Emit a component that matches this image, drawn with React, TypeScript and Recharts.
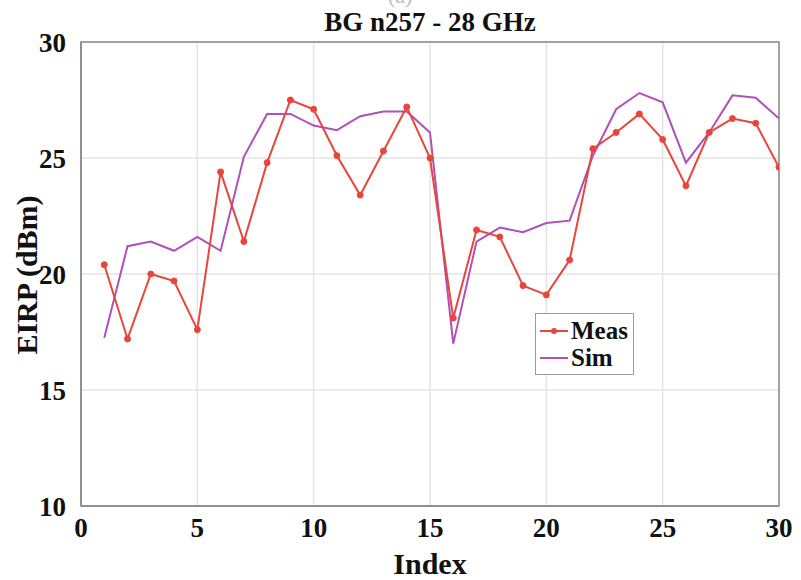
import React from 'react';
import { LineChart, Line, XAxis, YAxis, CartesianGrid, ReferenceArea } from 'recharts';

const indices = [1,2,3,4,5,6,7,8,9,10,11,12,13,14,15,16,17,18,19,20,21,22,23,24,25,26,27,28,29,30];
const measValues = [20.4,17.2,20.0,19.7,17.6,24.4,21.4,24.8,27.5,27.1,25.1,23.4,25.3,27.2,25.0,18.1,21.9,21.6,19.5,19.1,20.6,25.4,26.1,26.9,25.8,23.8,26.1,26.7,26.5,24.6];
const simValues = [17.25,21.2,21.4,21.0,21.6,21.0,25.05,26.9,26.9,26.4,26.2,26.8,27.0,27.0,26.1,17.0,21.4,22.0,21.8,22.2,22.3,25.1,27.1,27.8,27.4,24.8,26.1,27.7,27.6,26.7];
const xTicks = [0,5,10,15,20,25,30];
const yTicks = [10,15,20,25,30];
const seriesNames = ['Meas', 'Sim'];
const titleText = 'BG n257 - 28 GHz';
const xLabel = 'Index';
const yLabel = 'EIRP (dBm)';

const data = indices.map((idx, i) => ({ index: idx, meas: measValues[i], sim: simValues[i] }));

const MEAS_COLOR = '#e8453c';
const SIM_COLOR = '#b050b8';
const FONT = '"Liberation Serif", "Times New Roman", serif';

const LegendBox = () => (
  <div style={{
    position: 'absolute', left: 535, top: 313, width: 99, height: 62,
    border: '1px solid #9a9a9a', background: '#fff',
    fontFamily: FONT, fontWeight: 'bold', fontSize: 25, color: '#111',
    boxSizing: 'border-box', paddingTop: 3,
  }}>
    <div style={{ display: 'flex', alignItems: 'center', height: 27 }}>
      <svg width={30} height={12} style={{ marginLeft: 3, marginRight: 2 }}>
        <line x1={1} y1={6} x2={29} y2={6} stroke={MEAS_COLOR} strokeWidth={2} />
        <circle cx={15} cy={6} r={3} fill={MEAS_COLOR} />
      </svg>
      <span>{seriesNames[0]}</span>
    </div>
    <div style={{ display: 'flex', alignItems: 'center', height: 27 }}>
      <svg width={30} height={12} style={{ marginLeft: 3, marginRight: 2 }}>
        <line x1={1} y1={6} x2={29} y2={6} stroke={SIM_COLOR} strokeWidth={2} />
      </svg>
      <span>{seriesNames[1]}</span>
    </div>
  </div>
);

export default function App() {
  const tickStyle = { fontFamily: FONT, fontWeight: 'bold', fontSize: 27, fill: '#111' };
  return (
    <div style={{ position: 'absolute', left: 0, top: 0, width: 801, height: 580, background: '#fff', overflow: 'hidden' }}>
      <div style={{ position: 'absolute', left: 388, top: -17, fontFamily: FONT, fontSize: 22, color: '#bbb' }}>
        (a)
      </div>
      <div style={{ position: 'absolute', left: 81, width: 698, top: 6, textAlign: 'center', fontFamily: FONT, fontWeight: 'bold', fontSize: 27, color: '#111', lineHeight: '32px' }}>
        {titleText}
      </div>
      <LineChart width={801} height={580} data={data} margin={{ top: 42, right: 22, bottom: 0, left: 0 }}>
        <CartesianGrid stroke="#e4e4e4" strokeWidth={1.5} />
        <XAxis
          dataKey="index" type="number" domain={[0, 30]} ticks={xTicks} height={74}
          tick={tickStyle} tickLine={false} tickMargin={6} axisLine={{ stroke: '#8a8a8a', strokeWidth: 1.5 }}
          allowDataOverflow
        />
        <YAxis
          type="number" domain={[10, 30]} ticks={yTicks} width={81}
          tick={tickStyle} tickLine={false} tickMargin={9} axisLine={{ stroke: '#8a8a8a', strokeWidth: 1.5 }}
          allowDataOverflow
        />
        <ReferenceArea x1={0} x2={30} y1={10} y2={30} fill="none" stroke="#8a8a8a" strokeWidth={1.5} ifOverflow="visible" />
        <Line dataKey="sim" name={seriesNames[1]} stroke={SIM_COLOR} strokeWidth={2} dot={false} isAnimationActive={false} type="linear" />
        <Line dataKey="meas" name={seriesNames[0]} stroke={MEAS_COLOR} strokeWidth={2} dot={{ r: 3, fill: MEAS_COLOR, stroke: MEAS_COLOR, strokeWidth: 1 }} isAnimationActive={false} type="linear" />
      </LineChart>
      <LegendBox />
      <div style={{ position: 'absolute', left: 81, width: 698, top: 547, textAlign: 'center', fontFamily: FONT, fontWeight: 'bold', fontSize: 30, color: '#111', lineHeight: '34px' }}>
        {xLabel}
      </div>
      <div style={{
        position: 'absolute', left: 27, top: 275, transform: 'translate(-50%, -50%) rotate(-90deg)',
        whiteSpace: 'nowrap', fontFamily: FONT, fontWeight: 'bold', fontSize: 30, color: '#111', lineHeight: '34px',
      }}>
        {yLabel}
      </div>
    </div>
  );
}
